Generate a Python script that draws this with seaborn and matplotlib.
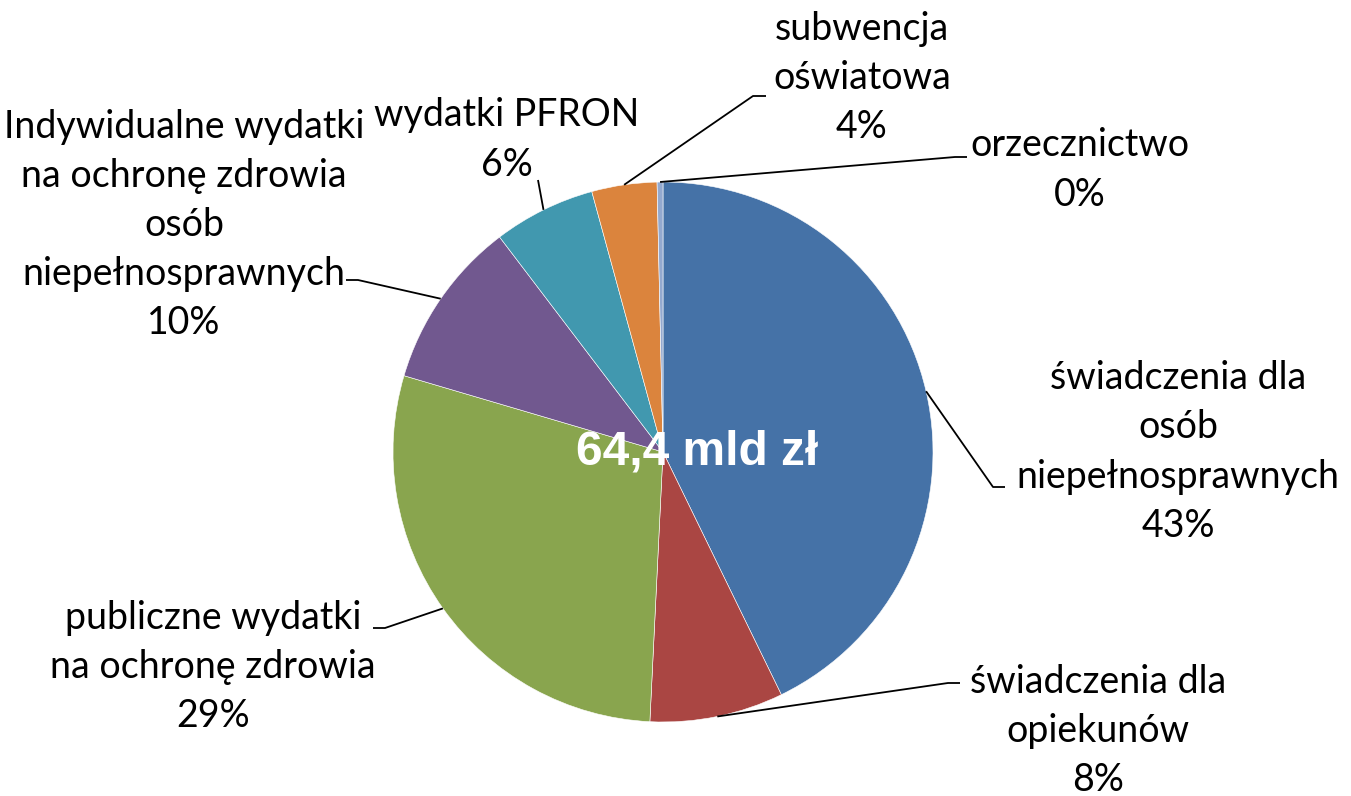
import numpy as np
import matplotlib.pyplot as plt
import seaborn as sns

# ---------------------------------------------------------------------------
# data (shares in % of 64,4 mld zł)
# ---------------------------------------------------------------------------
categories = [
    "świadczenia dla\nosób\nniepełnosprawnych",
    "świadczenia dla\nopiekunów",
    "publiczne wydatki\nna ochronę zdrowia",
    "Indywidualne wydatki\nna ochronę zdrowia\nosób\nniepełnosprawnych",
    "wydatki PFRON",
    "subwencja\noświatowa",
    "orzecznictwo",
]
shares = [42.8, 8.0, 28.8, 10.1, 6.1, 3.9, 0.35]
colors = ["#4572A7", "#AA4643", "#89A54E", "#71588F", "#4198AF", "#DB843D", "#93A9CF"]
total_label = "64,4 mld zł"

# label layout in pixels of the 1351x796 canvas: text centre, elbow, tip
label_xy = [(1178, 452), (1098, 731), (213, 667), (184, 225), (507, 140), (862, 78), (1080, 170)]
elbow_xy = [(993, 487), (948, 683), (385, 628), (358, 280), (538, 180), (753, 96), (955, 157)]
tip_xy = [(1005, 487), (960, 683), (373, 628), (346, 280), (538, 180), (766, 96), (967, 157)]

W, H = 1351, 796
CX, CY, R = 663, 452, 270


def px(x, y):
    return (x - CX) / R, (CY - y) / R


sns.set_theme(style="white")
plt.rcParams["font.family"] = ["Lato", "DejaVu Sans"]

fig = plt.figure(figsize=(W / 100, H / 100), dpi=100)
ax = fig.add_axes([0, 0, 1, 1])

wedges, _ = ax.pie(shares, colors=colors, startangle=90, counterclock=False,
                   radius=1, center=(0, 0),
                   wedgeprops=dict(edgecolor="white", linewidth=0.4))

ax.set_xlim(-CX / R, (W - CX) / R)
ax.set_ylim(-(H - CY) / R, CY / R)
ax.set_aspect("auto")
ax.axis("off")

for w, cat, s, lxy, exy, txy in zip(wedges, categories, shares, label_xy, elbow_xy, tip_xy):
    mid = np.deg2rad((w.theta1 + w.theta2) / 2)
    x0, y0 = np.cos(mid), np.sin(mid)
    ex, ey = px(*exy)
    tx, ty = px(*txy)
    ax.plot([x0, ex, tx], [y0, ey, ty], color="black", lw=1.3, solid_capstyle="butt")
    lx, ly = px(*lxy)
    ax.text(lx, ly, f"{cat}\n{s:.0f}%", ha="center", va="center",
            multialignment="center", fontsize=27, linespacing=1.45, color="black")

ax.text(*px(697, 452), total_label, ha="center", va="center", color="white",
        fontsize=34.5, fontweight="bold", family=["Liberation Sans", "DejaVu Sans"])

fig.savefig("out.png", dpi=100)
